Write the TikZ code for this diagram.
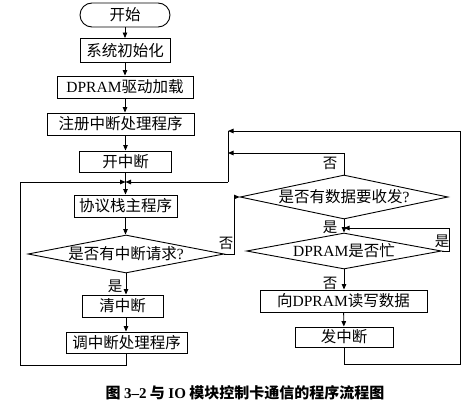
\documentclass[tikz,border=0pt]{standalone}
\usepackage{fontspec}
\setmainfont{Liberation Serif}
\newfontfamily\cjk{Noto Sans CJK SC}
\usetikzlibrary{shapes.geometric,arrows.meta}
\begin{document}
\begin{tikzpicture}[x=1pt,y=-1pt,
  line/.style={line width=0.9pt},
  box/.style={draw,line,inner sep=0pt,minimum height=22pt,font=\fontsize{15.5}{15.5}\selectfont\cjk},
  dia/.style={draw,line,diamond,inner sep=0pt,font=\fontsize{15.5}{15.5}\selectfont\cjk},
  lab/.style={inner sep=0pt,font=\fontsize{14.5}{14.5}\selectfont\cjk},
  arr/.style={line,-{Triangle[length=5.5pt,width=4.5pt]}}]
\useasboundingbox (0,0) rectangle (471,404);
% left column
\node[box,minimum width=90pt,minimum height=24pt,rounded corners=12pt] (start) at (125,15) {开始};
\node[box,minimum width=90pt,minimum height=24pt] (init) at (125,50.5) {系统初始化};
\node[box,minimum width=136pt] (drv) at (125,87) {{\rmfamily DPRAM}驱动加载};
\node[box,minimum width=147pt] (reg) at (120.5,124) {注册中断处理程序};
\node[box,minimum width=92pt,minimum height=21pt] (open) at (125.5,161.5) {开中断};
\coordinate (J) at (125.5,182);
\node[box,minimum width=103pt] (proto) at (125.5,206) {协议栈主程序};
\node[dia,minimum width=196pt,minimum height=38pt,aspect=5.2] (q1) at (126,254) {是否有中断请求{\rmfamily ?}};
\node[box,minimum width=81pt] (clr) at (122.5,306) {清中断};
\node[box,minimum width=121pt,minimum height=21pt] (call) at (126.5,342.5) {调中断处理程序};
% right column
\node[dia,minimum width=208pt,minimum height=44pt,aspect=4.7] (q2) at (344,197) {是否有数据要收发{\rmfamily ?}};
\node[dia,minimum width=195pt,minimum height=36pt,aspect=5.4] (q3) at (344,251) {{\rmfamily DPRAM}是否忙};
\node[box,minimum width=167pt] (rw) at (343.5,301) {向{\rmfamily DPRAM}读写数据};
\node[box,minimum width=98pt,minimum height=20pt] (fa) at (344,337) {发中断};
% helper coordinates
\coordinate (LL) at (20,365);
\coordinate (R) at (228,182);
\coordinate (TL) at (228,131);
\coordinate (ML) at (228,153);
\coordinate (BR) at (460,364);
\coordinate (Q1R) at (234,254);
\coordinate (YR) at (449,228);
% connectors left
\draw[arr] (start) -- (init);
\draw[arr] (init) -- (drv);
\draw[arr] (drv.south) -- (drv.south |- reg.north);
\draw[arr] (open.north |- reg.south) -- (open.north);
\draw[arr] (open.south) -- (proto.north);
\draw[arr] (proto.south) -- (proto.south |- q1.north);
\draw[arr] (q1.south) -- (q1.south |- clr.north);
\draw[arr] (q1.south |- clr.south) -- (q1.south |- call.north);
\draw[arr] (call.south) |- (LL) |- (J);
\draw[arr] (R) -- (J);
\draw[line] (TL) -- (R);
% connectors right
\draw[arr] (q1.east) -- (Q1R) |- (q2.west);
\draw[arr] (q2.north) |- (ML);
\draw[arr] (fa.south) |- (BR) |- (TL);
\draw[arr] (q2.south) -- (q3.north);
\draw[arr] (q3.east) -| (YR) -- (q2.south |- YR);
\draw[arr] (q3.south) -- (q3.south |- rw.north);
\draw[arr] (rw) -- (fa);
% labels
\node[lab] (n1) at (226,243) {否};
\node[lab] (y1) at (115,286) {是};
\node[lab] (n2) at (330,163) {否};
\node[lab] (y2) at (330,227) {是};
\node[lab] (y3) at (442,241) {是};
\node[lab] (n3) at (330,283) {否};
% caption
\node[inner sep=0pt,font=\fontsize{15}{15}\selectfont\cjk\bfseries] (cap) at (245,393) {图 {\rmfamily\bfseries 3–2} 与 {\rmfamily\bfseries IO} 模块控制卡通信的程序流程图};
\end{tikzpicture}
\end{document}
